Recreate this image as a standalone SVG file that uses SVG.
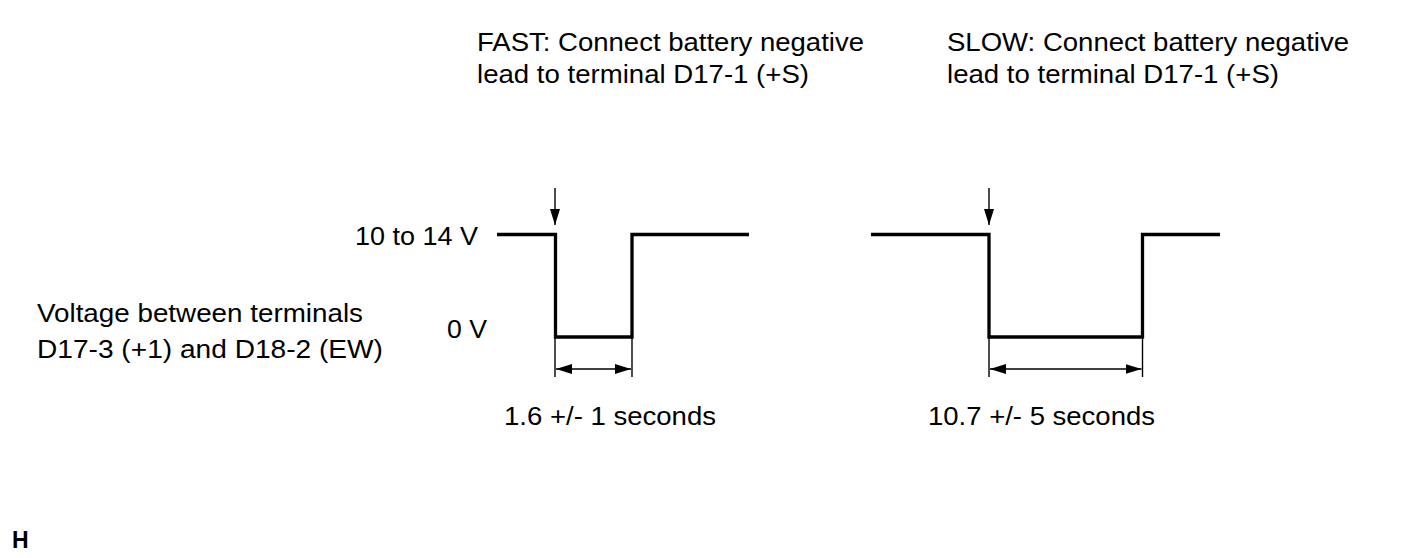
<svg xmlns="http://www.w3.org/2000/svg" width="1424" height="558" viewBox="0 0 1424 558">
<style>
text{font-family:"Liberation Sans",Arial,sans-serif;font-size:25px;fill:#000}
.wave{fill:none;stroke:#000;stroke-width:3.3;stroke-linejoin:miter;stroke-linecap:butt}
.thin{fill:none;stroke:#000;stroke-width:1.4}
.bold{font-weight:bold;font-size:23px}
</style>
<defs>
<marker id="ah" markerUnits="userSpaceOnUse" markerWidth="16" markerHeight="10" refX="16" refY="5" orient="auto-start-reverse" viewBox="0 0 16 10">
<path d="M0,0 L16,5 L0,10 Z" fill="#000"/>
</marker>
</defs>
<rect width="1424" height="558" fill="#fff"/>
<g id="fast-label">
<text x="477" y="51" textLength="387" lengthAdjust="spacingAndGlyphs">FAST: Connect battery negative</text>
<text x="477" y="83" textLength="332" lengthAdjust="spacingAndGlyphs">lead to terminal D17-1 (+S)</text>
</g>
<g id="slow-label">
<text x="947" y="51" textLength="402" lengthAdjust="spacingAndGlyphs">SLOW: Connect battery negative</text>
<text x="947" y="83" textLength="332" lengthAdjust="spacingAndGlyphs">lead to terminal D17-1 (+S)</text>
</g>
<g id="axis-labels">
<text x="355" y="245" textLength="123" lengthAdjust="spacingAndGlyphs">10 to 14 V</text>
<text x="447" y="338" textLength="40" lengthAdjust="spacingAndGlyphs">0 V</text>
</g>
<g id="signal-label">
<text x="37" y="322" textLength="326" lengthAdjust="spacingAndGlyphs">Voltage between terminals</text>
<text x="37" y="358" textLength="346" lengthAdjust="spacingAndGlyphs">D17-3 (+1) and D18-2 (EW)</text>
</g>
<g id="fast-waveform">
<path class="wave" d="M497,234.5 H555.5 V337 H632 V234.5 H749"/>
</g>
<g id="slow-waveform">
<path class="wave" d="M871,234.5 H989 V337 H1142.5 V234.5 H1220"/>
</g>
<g id="fast-duration">
<text x="504" y="425" textLength="212" lengthAdjust="spacingAndGlyphs">1.6 +/- 1 seconds</text>
</g>
<g id="slow-duration">
<text x="928" y="425" textLength="227" lengthAdjust="spacingAndGlyphs">10.7 +/- 5 seconds</text>
</g>
<g id="figure-code">
<text class="bold" x="12" y="548">H</text>
</g>
<g id="connectors">
<line class="thin" x1="555" y1="188" x2="555" y2="225" marker-end="url(#ah)"/>
<line class="thin" x1="989" y1="188" x2="989" y2="225" marker-end="url(#ah)"/>
<line class="thin" x1="555" y1="337" x2="555" y2="377"/>
<line class="thin" x1="632" y1="337" x2="632" y2="377"/>
<line class="thin" x1="556" y1="369" x2="631" y2="369" marker-start="url(#ah)" marker-end="url(#ah)"/>
<line class="thin" x1="989" y1="337" x2="989" y2="377"/>
<line class="thin" x1="1142.5" y1="337" x2="1142.5" y2="377"/>
<line class="thin" x1="990" y1="369" x2="1141.5" y2="369" marker-start="url(#ah)" marker-end="url(#ah)"/>
</g>
</svg>
